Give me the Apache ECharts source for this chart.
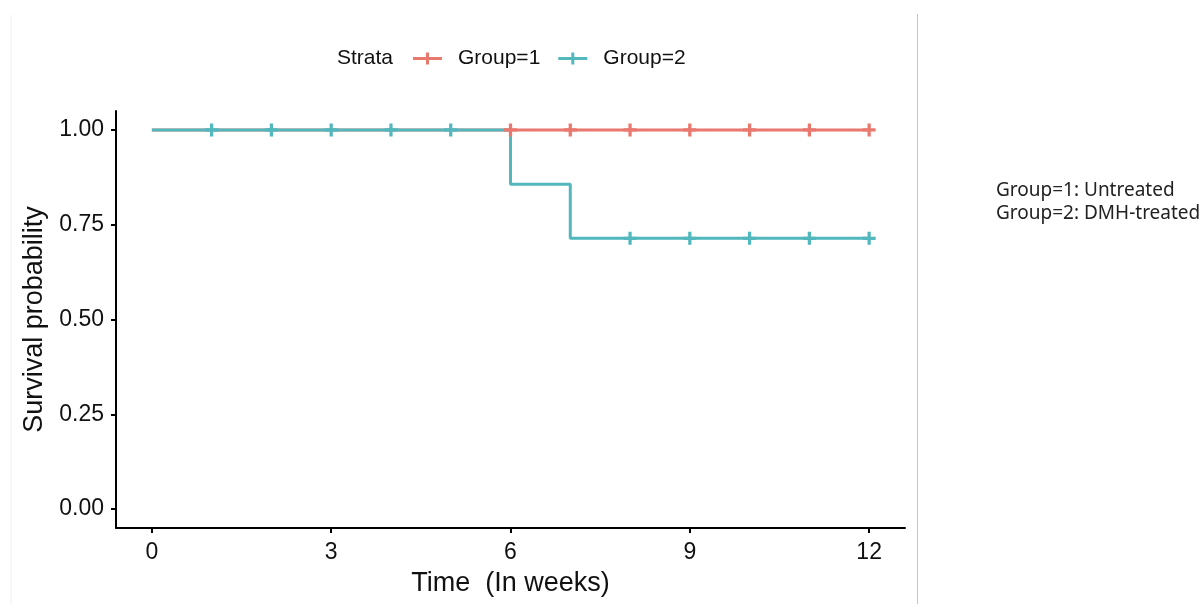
<!DOCTYPE html>
<html>
<head>
<meta charset="utf-8">
<script src="https://cdn.jsdelivr.net/npm/echarts@6/dist/echarts.min.js"></script>
<style>
  html, body { margin: 0; padding: 0; background: #fff; }
  #main { width: 1203px; height: 604px; }
</style>
</head>
<body>
<div id="main"></div>
<script>
// Kaplan-Meier curves
var groupNames = ['Group=1', 'Group=2'];
var groupColors = ['#E9786E', '#52B8BD'];

var stepTime1 = [0, 12];
var stepSurv1 = [1, 1];
var censorTime1 = [6, 7, 8, 9, 10, 11, 12];
var censorSurv1 = [1, 1, 1, 1, 1, 1, 1];

var stepTime2 = [0, 6, 7, 12];
var stepSurv2 = [1, 0.857, 0.714, 0.714];
var censorTime2 = [1, 2, 3, 4, 5, 8, 9, 10, 11, 12];
var censorSurv2 = [1, 1, 1, 1, 1, 0.714, 0.714, 0.714, 0.714, 0.714];

var xTicks = [0, 3, 6, 9, 12];
var yTicks = [0, 0.25, 0.5, 0.75, 1];

var noteLines = ['Group=1: Untreated', 'Group=2: DMH-treated'];

function pairs(xs, ys) {
    return xs.map(function (x, i) { return [x, ys[i]]; });
}

var plusPath = 'path://M-1.5,-6h3v4.5h4.5v3h-4.5v4.5h-3v-4.5h-4.5v-3h4.5z';
var legendIcon = 'path://M0,4.5h13v-4.5h3v4.5h13v3h-13v4.5h-3v-4.5h-13z';

var chart = echarts.init(document.getElementById('main'));

var font = '"Liberation Sans", Arial, sans-serif';

var option = {
    backgroundColor: '#fff',
    animation: false,
    textStyle: { fontFamily: font },
    grid: { left: 116, right: 298, top: 111, bottom: 76, containLabel: false },
    legend: {
        left: 408,
        top: 43,
        itemWidth: 29,
        itemHeight: 12,
        itemGap: 18,
        textStyle: { fontSize: 21, color: '#111', fontFamily: font, padding: [0, 0, 0, 11] },
        data: [
            { name: groupNames[0], icon: legendIcon, itemStyle: { color: groupColors[0] } },
            { name: groupNames[1], icon: legendIcon, itemStyle: { color: groupColors[1] } }
        ]
    },
    xAxis: {
        type: 'value',
        min: -0.6,
        max: 12.6,
        name: 'Time  (In weeks)',
        nameLocation: 'middle',
        nameGap: 42,
        nameTextStyle: { fontSize: 27, color: '#111', fontFamily: font },
        axisLine: { onZero: false, lineStyle: { color: '#000', width: 2 } },
        axisTick: { customValues: xTicks, length: 5, lineStyle: { color: '#000', width: 2 } },
        axisLabel: { customValues: xTicks, fontSize: 23, color: '#111', margin: 13 },
        splitLine: { show: false }
    },
    yAxis: {
        type: 'value',
        min: -0.05,
        max: 1.05,
        name: 'Survival probability',
        nameLocation: 'middle',
        nameGap: 60,
        nameTextStyle: { fontSize: 27, color: '#111', fontFamily: font },
        axisLine: { show: true, onZero: false, lineStyle: { color: '#000', width: 2 } },
        axisTick: { show: true, customValues: yTicks, length: 5, lineStyle: { color: '#000', width: 2 } },
        axisLabel: {
            customValues: yTicks, fontSize: 23, color: '#111', margin: 12,
            formatter: function (v) { return v.toFixed(2); }
        },
        splitLine: { show: false }
    },
    graphic: [
        { type: 'line', shape: { x1: 11, y1: 15, x2: 11, y2: 604 }, style: { stroke: '#eeeeee', lineWidth: 1 } },
        { type: 'line', shape: { x1: 917.5, y1: 14, x2: 917.5, y2: 604 }, style: { stroke: '#c4c4c4', lineWidth: 1 } },
        {
            type: 'text', left: 337, top: 48,
            style: { text: 'Strata', fontSize: 21, fill: '#111', fontFamily: font }
        },
        {
            type: 'text', left: 996, top: 179,
            style: {
                text: noteLines.join('\n'), fontSize: 19, lineHeight: 23,
                fill: '#222', fontFamily: '"Noto Sans", sans-serif'
            }
        }
    ],
    series: [
        {
            name: groupNames[0], type: 'line', step: 'end', showSymbol: false,
            data: pairs(stepTime1, stepSurv1),
            lineStyle: { color: groupColors[0], width: 3 },
            itemStyle: { color: groupColors[0] }, z: 2
        },
        {
            name: groupNames[1], type: 'line', step: 'end', showSymbol: false,
            data: pairs(stepTime2, stepSurv2),
            lineStyle: { color: groupColors[1], width: 3 },
            itemStyle: { color: groupColors[1] }, z: 3
        },
        {
            name: groupNames[0], type: 'scatter', symbol: plusPath, symbolSize: 13,
            data: pairs(censorTime1, censorSurv1),
            itemStyle: { color: groupColors[0], opacity: 1 }, z: 4
        },
        {
            name: groupNames[1], type: 'scatter', symbol: plusPath, symbolSize: 13,
            data: pairs(censorTime2, censorSurv2),
            itemStyle: { color: groupColors[1], opacity: 1 }, z: 5
        }
    ]
};

chart.setOption(option);
</script>
</body>
</html>
